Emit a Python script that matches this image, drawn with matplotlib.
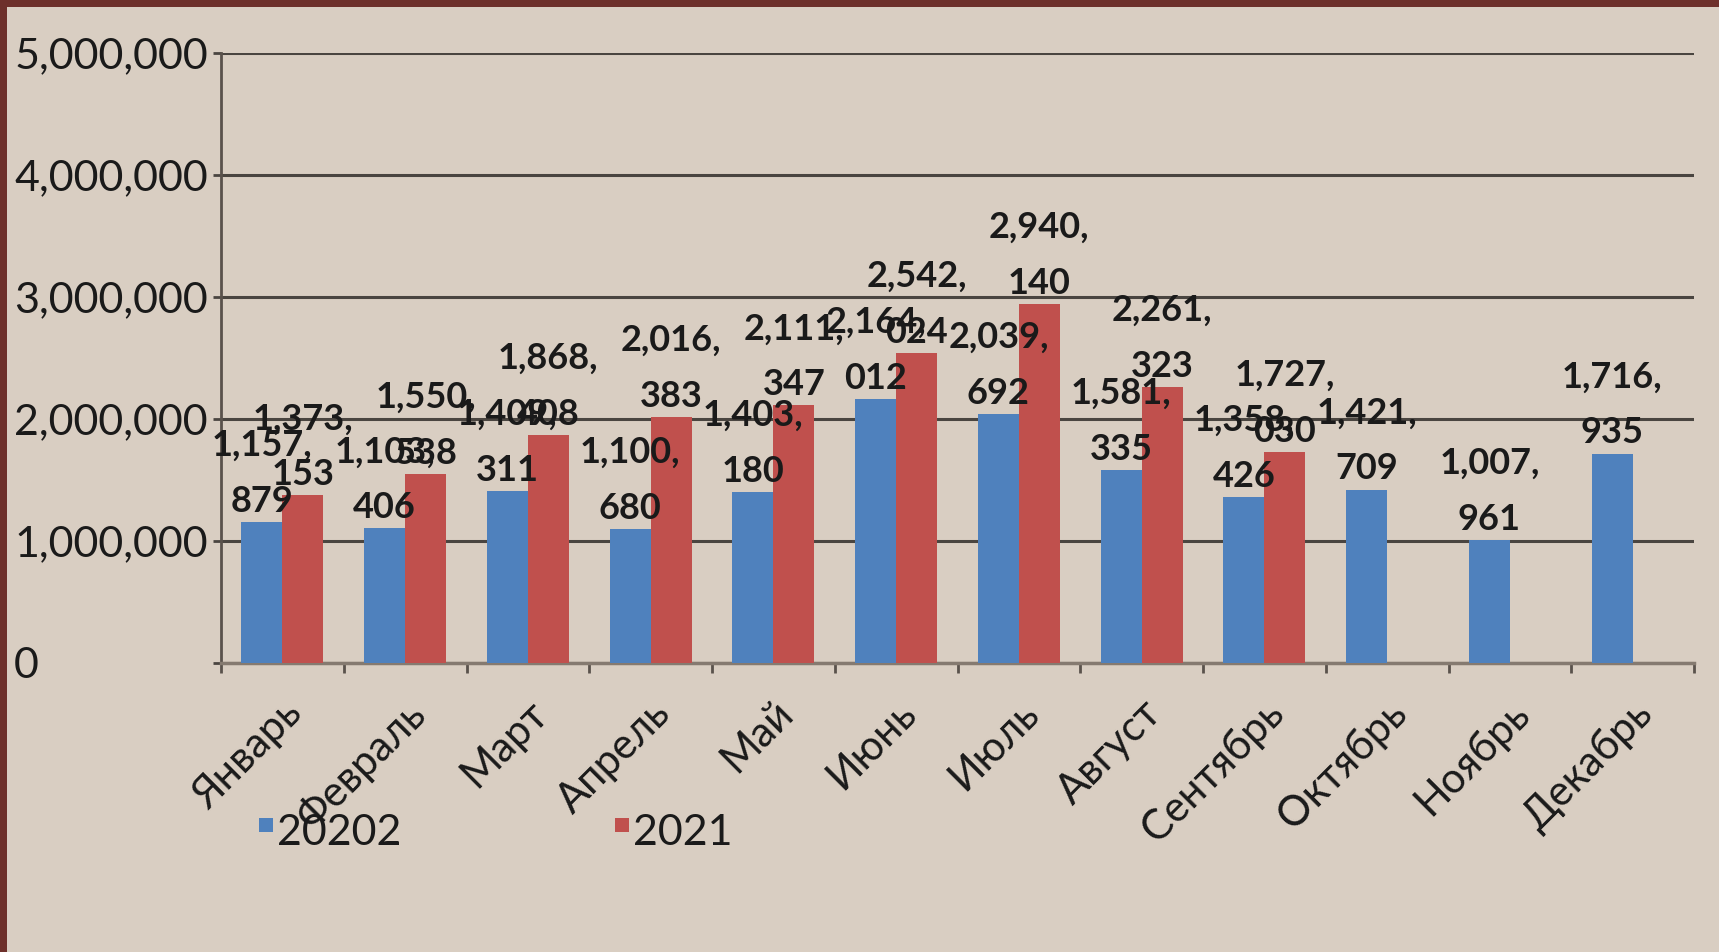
import matplotlib
matplotlib.use("Agg")
import matplotlib.pyplot as plt
from matplotlib.patches import Rectangle
import numpy as np

months = ["Январь", "Февраль", "Март", "Апрель", "Май", "Июнь", "Июль",
          "Август", "Сентябрь", "Октябрь", "Ноябрь", "Декабрь"]
v2020 = [1157879, 1103406, 1409311, 1100680, 1403180, 2164012, 2039692,
         1581335, 1358426, 1421709, 1007961, 1716935]
v2021 = [1373153, 1550538, 1868408, 2016383, 2111347, 2542024, 2940140,
         2261323, 1727030]
series_names = ["20202", "2021"]
yticks = [0, 1000000, 2000000, 3000000, 4000000, 5000000]

BG = "#d9cec2"
BORDER = "#6d302b"
BLUE = "#4f81bd"
RED = "#c0504d"
TXT = "#1a1a1a"
FONT = ["Lato", "DejaVu Sans"]

plt.rcParams["font.family"] = FONT

W, H = 1719, 952
fig = plt.figure(figsize=(W / 100, H / 100), dpi=100, facecolor=BG)

# border strips (top & left)
fig.patches.append(Rectangle((0, 1 - 7 / H), 1, 7 / H, transform=fig.transFigure,
                             facecolor=BORDER, edgecolor="none", zorder=0))
fig.patches.append(Rectangle((0, 0), 7 / W, 1, transform=fig.transFigure,
                             facecolor=BORDER, edgecolor="none", zorder=0))

ax = fig.add_axes([221 / W, 289 / H, (1694 - 221) / W, (899 - 289) / H])
ax.set_facecolor(BG)

x = np.arange(len(months))
bw = 1 / 3
b1 = ax.bar(x[:len(v2020)] - bw / 2, v2020, width=bw, color=BLUE, zorder=3)
b2 = ax.bar(x[:len(v2021)] + bw / 2, v2021, width=bw, color=RED, zorder=3)

def fmt(v):
    s = f"{v:,}"
    i = s.rfind(",")
    return s[:i + 1] + "\n" + s[i + 1:]

for bars, vals in ((b1, v2020), (b2, v2021)):
    for rect, v in zip(bars, vals):
        ax.annotate(fmt(v), (rect.get_x() + rect.get_width() / 2, v),
                    xytext=(0, 3), textcoords="offset points",
                    ha="center", va="bottom", multialignment="center",
                    fontsize=26, fontweight="bold", color=TXT,
                    linespacing=1.85, zorder=5)

ax.set_xlim(-0.5, len(months) - 0.5)
ax.set_ylim(0, 5000000)
ax.set_yticks(yticks)
ax.set_yticklabels([f"{t:,}" for t in yticks])
ax.yaxis.grid(True, color="#4a4540", linewidth=2.2, zorder=1)
ax.set_axisbelow(True)

for s in ("top", "right"):
    ax.spines[s].set_visible(False)
ax.spines["left"].set_color("#5a524c")
ax.spines["left"].set_linewidth(2)
ax.spines["bottom"].set_color("#857a70")
ax.spines["bottom"].set_linewidth(2.5)

ax.tick_params(axis="y", length=6, width=2, color="#4a4540",
               labelsize=31, labelcolor=TXT, pad=143)
for lab in ax.get_yticklabels():
    lab.set_horizontalalignment("left")

ax.set_xticks(np.arange(len(months) + 1) - 0.5, minor=True)
ax.set_xticks(x)
ax.set_xticklabels(months, rotation=45, ha="right", va="top",
                   rotation_mode="anchor", fontsize=30, color=TXT)
ax.tick_params(axis="x", which="major", length=0, pad=22)
ax.tick_params(axis="x", which="minor", length=7, width=2, color="#5a524c")

# legend
for (name, col, xs) in ((series_names[0], BLUE, 259), (series_names[1], RED, 615)):
    fig.patches.append(Rectangle((xs / W, 1 - 832 / H), 14 / W, 14 / H,
                                 transform=fig.transFigure, facecolor=col,
                                 edgecolor="none"))
    fig.text((xs + 18) / W, 1 - 833 / H, name, fontsize=31, color=TXT,
             va="center", ha="left")

fig.savefig("out.png", dpi=100, facecolor=BG)
